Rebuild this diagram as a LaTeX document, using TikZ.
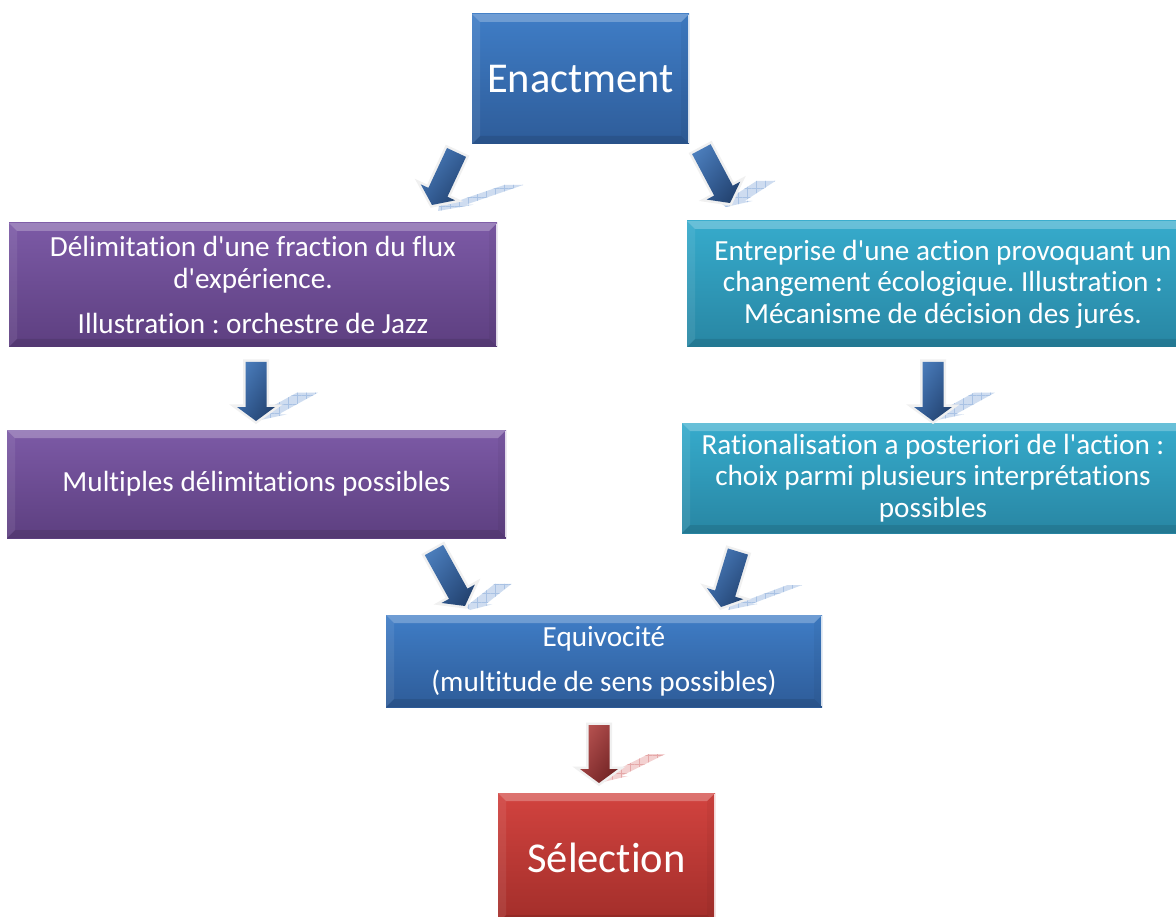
\documentclass[tikz,border=0pt]{standalone}
\usepackage{fontspec}
\setmainfont{Carlito}[Ligatures={NoCommon}]
\usetikzlibrary{calc,patterns.meta,shadings}
\pgfdeclarelayer{bg}
\pgfsetlayers{bg,main}

\definecolor{blueT}{HTML}{3F7DC6}
\definecolor{blueB}{HTML}{2E5C99}
\definecolor{purT}{HTML}{7C5AA6}
\definecolor{purB}{HTML}{5D3F80}
\definecolor{tealT}{HTML}{36ABCC}
\definecolor{tealB}{HTML}{2886A3}
\definecolor{redT}{HTML}{D2433F}
\definecolor{redB}{HTML}{A22E2A}
\definecolor{arL}{HTML}{5185C4}
\definecolor{arM}{HTML}{35609A}
\definecolor{arD}{HTML}{1E3A63}
\definecolor{arRL}{HTML}{C05956}
\definecolor{arRM}{HTML}{93393A}
\definecolor{arRD}{HTML}{661C1C}
\definecolor{shB}{HTML}{C6D7EE}
\definecolor{shBg}{HTML}{A9C2E4}
\definecolor{shR}{HTML}{F2CACA}
\definecolor{shRg}{HTML}{E5A8A8}

\tikzset{
  box/.style={rectangle, inner sep=0pt, outer sep=0pt, text=white, align=center,
    font=\fontsize{29.2}{31.5}\selectfont},
  bigtext/.style={font=\fontsize{42.5}{50}\selectfont},
  bluebox/.style={box, top color=blueT, bottom color=blueB},
  purbox/.style={box, top color=purT, bottom color=purB},
  tealbox/.style={box, top color=tealT, bottom color=tealB},
  redbox/.style={box, top color=redT, bottom color=redB},
  halo/.style={draw=black!6, line width=5pt, line join=miter},
  bluearrow/.style={upper left=arL, upper right=arM, lower left=arM, lower right=arD},
  redarrow/.style={upper left=arRL, upper right=arRM, lower left=arRM, lower right=arRD},
  blueshadow/.style={fill=shB, fill opacity=0.85},
  redshadow/.style={fill=shR, fill opacity=0.85},
  bluegrid/.style={pattern={Hatch[angle=0,distance=9pt,line width=0.4pt]}, pattern color=shBg},
  redgrid/.style={pattern={Hatch[angle=0,distance=9pt,line width=0.4pt]}, pattern color=shRg},
}

% arrow outline: tip at origin, pointing down (y grows downwards), length #1
\newcommand\arrshape[1]{(0,0) -- (-19,-14) -- (-10.5,-14) -- (-10.5,-#1) -- (10.5,-#1) -- (10.5,-14) -- (19,-14) -- cycle}

% #1 tip, #2 rotation, #3 length, #4 arrow style
\newcommand\blockarrow[4]{%
  \begin{scope}[shift={#1}, rotate=#2]
    \path[halo] \arrshape{#3};
    \shade[#4] \arrshape{#3};
  \end{scope}}

% #1 origin, #2 cm entries, #3 length, #4 fill style, #5 grid style
\newcommand\arrshadow[5]{%
  \begin{scope}[shift={#1}, cm={#2,(0,0)}]
    \path[#4] \arrshape{#3};
    \path[#5] \arrshape{#3};
  \end{scope}}

\newcommand\bevel[1]{%
  \fill[white,opacity=0.25] (#1.north west) -- (#1.north east) -- ($(#1.north east)+(-8,8)$) -- ($(#1.north west)+(8,8)$) -- cycle;
  \fill[white,opacity=0.08] (#1.north west) -- ($(#1.north west)+(8,8)$) -- ($(#1.south west)+(8,-8)$) -- (#1.south west) -- cycle;
  \fill[black,opacity=0.10] (#1.south west) -- ($(#1.south west)+(8,-8)$) -- ($(#1.south east)+(-8,-8)$) -- (#1.south east) -- cycle;
  \fill[black,opacity=0.04] (#1.north east) -- ($(#1.north east)+(-8,8)$) -- ($(#1.south east)+(-8,-8)$) -- (#1.south east) -- cycle;
  \draw[white,opacity=0.8,line width=1.5pt] ($(#1.north east)+(-0.75,1)$) -- ($(#1.south east)+(-0.75,-1)$);
}

\newcommand\boxshadow[1]{%
  \foreach \k in {0,...,4}{%
    \fill[black,opacity=0.07] ($(#1.north west)+(2-\k,3)$) rectangle ($(#1.south east)+(1+\k,2+\k)$);}}

\frenchspacing
\begin{document}
\begin{tikzpicture}[x=1pt,y=-1pt]
\useasboundingbox (0,0) rectangle (1176,917);
\clip (0,0) rectangle (1176,917);
\fill[white] (0,0) rectangle (1176,917);

% boxes
\node[bluebox, bigtext, minimum width=217pt, minimum height=130pt] (enact) at (580.5,79) {Enactment};
\node[purbox, minimum width=488pt, minimum height=124pt] (delim) at (253,285)
  {Délimitation d\textquotesingle une fraction du flux\\d\textquotesingle expérience.\\[13.5pt]Illustration : orchestre de Jazz};
\node[purbox, minimum width=499pt, minimum height=108pt] (multi) at (256.5,484)
  {Multiples délimitations possibles};
\node[tealbox, minimum width=512pt, minimum height=126pt] (entre) at (943,284)
  {Entreprise d\textquotesingle une action provoquant un\\changement écologique. Illustration :\\Mécanisme de décision des jurés.};
\node[tealbox, minimum width=502pt, minimum height=110pt] (ratio) at (933,478)
  {Rationalisation a posteriori de l\textquotesingle action :\\choix parmi plusieurs interprétations\\possibles};
\node[bluebox, minimum width=436pt, minimum height=92pt] (equiv) at (604,661)
  {Equivocité\\[13.5pt](multitude de sens possibles)};
\node[redbox, bigtext, minimum width=217pt, minimum height=130pt] (selec) at (606.5,858) {Sélection};

\foreach \n in {enact,delim,multi,entre,ratio,equiv,selec}{\bevel{\n}}

\begin{pgfonlayer}{bg}
  \foreach \n in {enact,delim,multi,entre,ratio,equiv,selec}{\boxshadow{\n}}
\end{pgfonlayer}

% arrow tips
\coordinate (t1) at (432,205);
\coordinate (t2) at (730,203);
\coordinate (t3) at (256,421);
\coordinate (t4) at (933,421);
\coordinate (t5) at (465,606);
\coordinate (t6) at (721,607);
\coordinate (t7) at (599,783);

% reflections
\arrshadow{(438,211)}{0.9,0,1.31,0.45}{58}{blueshadow}{bluegrid}
\arrshadow{(726,207)}{0.9,0,0.66,0.43}{61}{blueshadow}{bluegrid}
\arrshadow{(t3)}{1,0,0.87,0.48}{59}{blueshadow}{bluegrid}
\arrshadow{(t4)}{1,0,0.87,0.48}{59}{blueshadow}{bluegrid}
\arrshadow{(470,610)}{0.8,0,0.52,0.41}{64}{blueshadow}{bluegrid}
\arrshadow{(728,610)}{0.7,0,1.15,0.43}{58}{blueshadow}{bluegrid}
\arrshadow{(t7)}{0.8,0,1.0,0.5}{58}{redshadow}{redgrid}

% block arrows
\blockarrow{(t1)}{-25}{58}{bluearrow}
\blockarrow{(t2)}{28}{61}{bluearrow}
\blockarrow{(t3)}{0}{59}{bluearrow}
\blockarrow{(t4)}{0}{59}{bluearrow}
\blockarrow{(t5)}{29}{64}{bluearrow}
\blockarrow{(t6)}{-17}{58}{bluearrow}
\blockarrow{(t7)}{0}{58}{redarrow}
\end{tikzpicture}
\end{document}
